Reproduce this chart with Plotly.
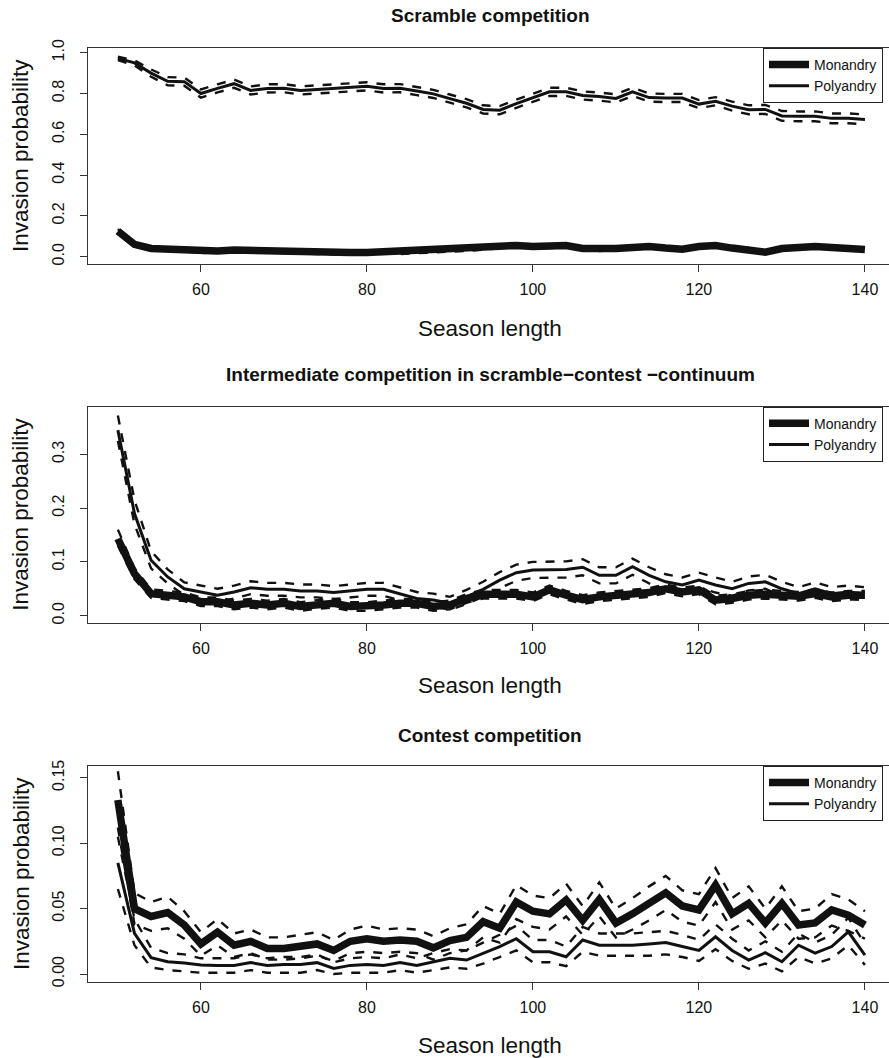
import plotly.graph_objects as go

# ---------------- data ----------------
season = list(range(50, 141, 2))
x_ticks = [60, 80, 100, 120, 140]

titles = ["Scramble competition",
          "Intermediate competition in scramble\u2212contest \u2212continuum",
          "Contest competition"]
x_label = "Season length"
y_label = "Invasion probability"
series_names = ["Monandry", "Polyandry"]

# Panel 1 : scramble
p1_mono = [0.125,0.060,0.040,0.037,0.035,0.025,0.028,0.033,0.030,0.028,0.026,0.022,0.020,0.019,0.020,0.020,0.024,0.020,0.025,0.028,0.033,0.036,0.042,0.048,0.055,0.050,0.050,0.055,0.040,0.036,0.040,0.045,0.050,0.042,0.036,0.050,0.055,0.042,0.035,0.022,0.040,0.045,0.050,0.045,0.040,0.035]
p1_mono_lo = [0.115,0.052,0.032,0.029,0.027,0.017,0.020,0.025,0.022,0.020,0.018,0.014,0.012,0.011,0.012,0.012,0.016,0.012,0.017,0.020,0.025,0.028,0.034,0.040,0.047,0.042,0.042,0.047,0.032,0.028,0.032,0.037,0.042,0.034,0.028,0.042,0.047,0.034,0.027,0.014,0.032,0.037,0.042,0.037,0.032,0.027]
p1_mono_hi = [0.135,0.068,0.048,0.045,0.043,0.033,0.036,0.041,0.038,0.036,0.034,0.030,0.028,0.027,0.028,0.028,0.032,0.028,0.033,0.036,0.041,0.044,0.050,0.056,0.063,0.058,0.058,0.063,0.048,0.044,0.048,0.053,0.058,0.050,0.044,0.058,0.063,0.050,0.043,0.030,0.048,0.053,0.058,0.053,0.048,0.043]
p1_poly = [0.972,0.950,0.900,0.860,0.858,0.800,0.825,0.848,0.815,0.825,0.826,0.815,0.820,0.826,0.832,0.835,0.825,0.826,0.812,0.798,0.775,0.752,0.722,0.718,0.750,0.780,0.808,0.808,0.790,0.785,0.776,0.808,0.780,0.778,0.778,0.748,0.762,0.738,0.720,0.722,0.690,0.688,0.688,0.678,0.678,0.673]
p1_poly_lo = [0.964,0.938,0.882,0.840,0.838,0.780,0.805,0.828,0.795,0.805,0.806,0.795,0.800,0.806,0.812,0.815,0.805,0.806,0.792,0.778,0.755,0.732,0.702,0.698,0.730,0.760,0.788,0.788,0.770,0.765,0.756,0.788,0.760,0.758,0.758,0.728,0.742,0.716,0.698,0.700,0.666,0.664,0.664,0.654,0.654,0.649]
p1_poly_hi = [0.980,0.962,0.918,0.880,0.878,0.820,0.845,0.868,0.835,0.845,0.846,0.835,0.840,0.846,0.852,0.855,0.845,0.846,0.832,0.818,0.795,0.772,0.742,0.738,0.770,0.800,0.828,0.828,0.810,0.805,0.796,0.828,0.800,0.798,0.798,0.768,0.782,0.760,0.742,0.744,0.714,0.712,0.712,0.702,0.702,0.697]

# Panel 2 : intermediate
p2_mono = [0.143,0.078,0.041,0.038,0.035,0.026,0.026,0.020,0.023,0.020,0.023,0.017,0.021,0.023,0.017,0.017,0.020,0.023,0.023,0.017,0.020,0.032,0.040,0.040,0.040,0.035,0.048,0.038,0.030,0.035,0.038,0.041,0.043,0.050,0.044,0.048,0.029,0.032,0.038,0.040,0.038,0.036,0.041,0.035,0.038,0.038]
p2_mono_lo = [0.130,0.068,0.033,0.030,0.027,0.018,0.018,0.012,0.015,0.012,0.015,0.009,0.013,0.015,0.009,0.009,0.012,0.015,0.015,0.009,0.012,0.024,0.032,0.032,0.032,0.027,0.040,0.030,0.022,0.027,0.030,0.033,0.035,0.042,0.036,0.040,0.021,0.024,0.030,0.032,0.030,0.028,0.033,0.027,0.030,0.030]
p2_mono_hi = [0.160,0.088,0.049,0.046,0.043,0.034,0.034,0.028,0.031,0.028,0.031,0.025,0.029,0.031,0.025,0.025,0.028,0.031,0.031,0.025,0.028,0.040,0.048,0.048,0.048,0.043,0.056,0.046,0.038,0.043,0.046,0.049,0.051,0.058,0.052,0.056,0.037,0.040,0.046,0.048,0.046,0.044,0.049,0.043,0.046,0.046]
p2_poly = [0.345,0.190,0.103,0.072,0.050,0.044,0.038,0.044,0.052,0.049,0.049,0.046,0.046,0.043,0.046,0.049,0.049,0.040,0.032,0.029,0.023,0.035,0.049,0.066,0.080,0.085,0.086,0.086,0.090,0.075,0.075,0.091,0.075,0.063,0.057,0.066,0.057,0.050,0.060,0.063,0.050,0.041,0.050,0.041,0.044,0.041]
p2_poly_lo = [0.325,0.170,0.088,0.060,0.038,0.032,0.026,0.032,0.040,0.037,0.037,0.034,0.034,0.031,0.034,0.037,0.037,0.028,0.020,0.017,0.011,0.022,0.035,0.051,0.065,0.070,0.071,0.071,0.075,0.060,0.060,0.076,0.060,0.049,0.043,0.052,0.043,0.037,0.047,0.050,0.037,0.029,0.038,0.029,0.032,0.029]
p2_poly_hi = [0.372,0.215,0.120,0.086,0.062,0.056,0.050,0.056,0.064,0.061,0.061,0.058,0.058,0.055,0.058,0.061,0.061,0.052,0.044,0.041,0.035,0.048,0.063,0.081,0.095,0.100,0.101,0.101,0.105,0.090,0.090,0.106,0.090,0.077,0.071,0.080,0.071,0.063,0.073,0.076,0.063,0.053,0.062,0.053,0.056,0.053]

# Panel 3 : contest
p3_mono = [0.133,0.050,0.044,0.047,0.0375,0.023,0.032,0.022,0.025,0.0196,0.0196,0.021,0.023,0.018,0.025,0.027,0.025,0.026,0.025,0.020,0.0255,0.028,0.040,0.035,0.055,0.048,0.046,0.0566,0.041,0.057,0.039,0.046,0.054,0.062,0.052,0.049,0.068,0.046,0.054,0.039,0.054,0.0375,0.039,0.049,0.045,0.0375]
p3_mono_lo = [0.112,0.038,0.033,0.035,0.027,0.014,0.022,0.013,0.016,0.011,0.011,0.012,0.014,0.010,0.016,0.017,0.016,0.017,0.016,0.011,0.016,0.018,0.028,0.024,0.042,0.036,0.034,0.044,0.030,0.044,0.028,0.034,0.041,0.049,0.040,0.037,0.055,0.034,0.041,0.028,0.041,0.027,0.028,0.037,0.033,0.027]
p3_mono_hi = [0.155,0.062,0.055,0.059,0.048,0.032,0.042,0.031,0.034,0.028,0.028,0.030,0.032,0.026,0.034,0.037,0.034,0.035,0.034,0.029,0.035,0.038,0.052,0.046,0.068,0.060,0.058,0.069,0.052,0.070,0.050,0.058,0.067,0.075,0.064,0.061,0.081,0.058,0.067,0.050,0.067,0.048,0.050,0.061,0.057,0.048]
p3_poly = [0.085,0.031,0.0125,0.0094,0.0085,0.0069,0.0065,0.0065,0.0087,0.0066,0.0072,0.0072,0.0087,0.0043,0.0066,0.0072,0.0066,0.0087,0.0066,0.0095,0.012,0.0107,0.0158,0.021,0.027,0.017,0.017,0.0132,0.026,0.022,0.022,0.022,0.023,0.024,0.021,0.018,0.0285,0.018,0.0107,0.0163,0.0094,0.022,0.016,0.021,0.0323,0.0145]
p3_poly_lo = [0.065,0.022,0.005,0.003,0.002,0.001,0.001,0.001,0.003,0.001,0.001,0.001,0.003,0.000,0.001,0.001,0.001,0.003,0.001,0.003,0.005,0.004,0.008,0.013,0.018,0.009,0.009,0.006,0.017,0.014,0.014,0.014,0.014,0.015,0.013,0.010,0.019,0.010,0.004,0.008,0.002,0.013,0.008,0.012,0.022,0.007]
p3_poly_hi = [0.105,0.042,0.020,0.016,0.015,0.012,0.012,0.012,0.015,0.012,0.013,0.013,0.015,0.009,0.012,0.013,0.012,0.015,0.012,0.016,0.019,0.018,0.024,0.030,0.037,0.026,0.026,0.021,0.036,0.031,0.031,0.031,0.032,0.033,0.030,0.026,0.038,0.027,0.018,0.025,0.017,0.031,0.024,0.030,0.043,0.023]

panels = [
    dict(mono=p1_mono, mono_lo=p1_mono_lo, mono_hi=p1_mono_hi,
         poly=p1_poly, poly_lo=p1_poly_lo, poly_hi=p1_poly_hi,
         yticks=[0.0, 0.2, 0.4, 0.6, 0.8, 1.0], fmt=".1f"),
    dict(mono=p2_mono, mono_lo=p2_mono_lo, mono_hi=p2_mono_hi,
         poly=p2_poly, poly_lo=p2_poly_lo, poly_hi=p2_poly_hi,
         yticks=[0.0, 0.1, 0.2, 0.3], fmt=".1f"),
    dict(mono=p3_mono, mono_lo=p3_mono_lo, mono_hi=p3_mono_hi,
         poly=p3_poly, poly_lo=p3_poly_lo, poly_hi=p3_poly_hi,
         yticks=[0.00, 0.05, 0.10, 0.15], fmt=".2f"),
]

# ---------------- layout geometry (pixels of the 889x1058 page) ----------------
W, H = 889, 1058
PLOT_LEFT = 88
box_top = [48, 406.7, 766]
box_bot = [264, 623, 982]
y_ranges = [[-0.036, 1.023], [-0.0136, 0.3885], [-0.0061, 0.159]]
x_range = [46.4, 142.9]
title_y = [15, 375, 735]
xlab_y = [328, 685, 1045]
plot_cx = 490

FONT = "Liberation Sans, Arial, Helvetica, sans-serif"
INK = "#111111"

fig = go.Figure()

for i, p in enumerate(panels):
    k = "" if i == 0 else str(i + 1)
    xa, ya = "x" + k, "y" + k
    leg = "legend" + k
    for lo_hi in ("mono_lo", "mono_hi", "poly_lo", "poly_hi"):
        fig.add_trace(go.Scatter(
            x=season, y=p[lo_hi], mode="lines", xaxis=xa, yaxis=ya,
            line=dict(color=INK, width=2.4, dash="9px,9px"),
            showlegend=False, hoverinfo="skip"))
    fig.add_trace(go.Scatter(
        x=season, y=p["mono"], mode="lines", xaxis=xa, yaxis=ya,
        name=series_names[0], legend=leg,
        line=dict(color=INK, width=7.5)))
    fig.add_trace(go.Scatter(
        x=season, y=p["poly"], mode="lines", xaxis=xa, yaxis=ya,
        name=series_names[1], legend=leg,
        line=dict(color=INK, width=3)))

    dom_y = [1 - box_bot[i] / H, 1 - box_top[i] / H]
    fig.layout["xaxis" + k] = dict(
        domain=[PLOT_LEFT / W, 1], range=x_range, anchor=ya, automargin=False,
        tickmode="array", tickvals=x_ticks, ticks="outside", ticklen=7,
        tickwidth=1.2, tickcolor="#333", showline=True, linecolor="#333",
        linewidth=1.2, mirror=True, showgrid=False, zeroline=False,
        ticklabelstandoff=4,
        tickfont=dict(family=FONT, size=16, color=INK))
    fig.layout["yaxis" + k] = dict(
        domain=dom_y, range=y_ranges[i], anchor=xa, automargin=False,
        tickmode="array", tickvals=p["yticks"], tickformat=p["fmt"],
        ticks="outside", ticklen=7, tickwidth=1.2, tickcolor="#333",
        showline=True, linecolor="#333", linewidth=1.2, mirror=False,
        showgrid=False, zeroline=False, tickangle=-90, ticklabelstandoff=10,
        tickfont=dict(family=FONT, size=16, color=INK))
    fig.layout[leg] = dict(
        x=763 / W, xanchor="left", y=1 - box_top[i] / H, yanchor="top",
        bgcolor="white", bordercolor="#222", borderwidth=1,
        font=dict(family=FONT, size=14, color=INK),
        tracegroupgap=0, itemwidth=40,
        entrywidth=135, entrywidthmode="pixels")

    fig.add_annotation(x=plot_cx / W, y=1 - title_y[i] / H, xref="paper",
                       yref="paper", text="<b>" + titles[i] + "</b>",
                       showarrow=False, xanchor="center", yanchor="middle",
                       font=dict(family=FONT, size=19, color=INK))
    fig.add_annotation(x=plot_cx / W, y=1 - xlab_y[i] / H, xref="paper",
                       yref="paper", text=x_label, showarrow=False,
                       xanchor="center", yanchor="middle",
                       font=dict(family=FONT, size=22.5, color=INK))
    fig.add_annotation(x=21 / W, y=1 - (box_top[i] + box_bot[i]) / 2 / H,
                       xref="paper", yref="paper", text=y_label,
                       showarrow=False, textangle=-90, xanchor="center",
                       yanchor="middle",
                       font=dict(family=FONT, size=22.5, color=INK))

fig.update_layout(width=W, height=H, margin=dict(l=0, r=0, t=0, b=0, autoexpand=False),
                  paper_bgcolor="white", plot_bgcolor="white")

fig.write_html("out.html", config={"displayModeBar": False},
               post_script="document.body.style.margin='0';document.body.style.overflow='hidden';")
